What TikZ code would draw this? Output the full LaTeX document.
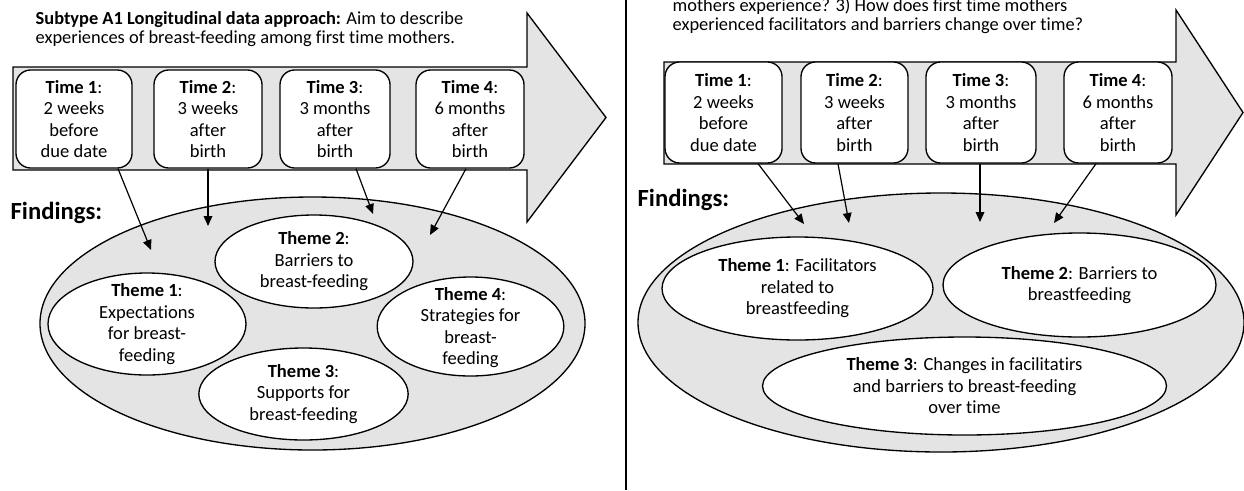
\documentclass[tikz,border=0pt]{standalone}
\usepackage{fontspec}
\setmainfont{Carlito}[Ligatures=NoCommon]
\usetikzlibrary{arrows.meta,shapes.geometric}
\definecolor{fillgray}{HTML}{E4E4E4}
\newcommand\fsbox{\fontsize{13.9}{16.1}\selectfont}
\newcommand\fstitle{\fontsize{13.8}{14.3}\selectfont}
\newcommand\fsfind{\fontsize{18.5}{20}\selectfont\bfseries}
\begin{document}
\begin{tikzpicture}[x=0.75pt,y=-0.75pt,line width=1pt,
  bigarrow/.style={draw,fill=fillgray,line join=miter},
  tbox/.style={draw,fill=white,rounded corners=11pt,inner sep=0pt,align=center,font=\fsbox},
  bigell/.style={draw,fill=fillgray,ellipse,inner sep=0pt},
  themeell/.style={draw,fill=white,ellipse,inner sep=0pt},
  ttext/.style={align=center,font=\fsbox,inner sep=0pt},
  titletext/.style={align=left,font=\fstitle,inner sep=0pt,anchor=west},
  findtext/.style={font=\fsfind,inner sep=0pt,anchor=west},
  conn/.style={-{Triangle[length=7.5pt,width=6.5pt]},line width=0.9pt}]
\path[use as bounding box] (0,0) rectangle (1244,490);
\clip (0,0) rectangle (1244,490);

% divider
\draw[line width=1pt] (626,0) -- (626,490);

% ---------------- left panel ----------------
\node[titletext] (ltitle) at (35,29) {\textbf{Subtype A1 Longitudinal data approach:} Aim to describe\\experiences of breast-feeding among first time mothers.};

\draw[bigarrow] (13,67) -- (527,67) -- (527,13) -- (606,117.5) -- (527,222) -- (527,170) -- (13,170) -- cycle;

\node[tbox,minimum width=87pt,minimum height=73.5pt] (lb1) at (74,119) {\textbf{Time 1}:\\2 weeks\\before\\due date};
\node[tbox,minimum width=81pt,minimum height=73.5pt] (lb2) at (208,119) {\textbf{Time 2}:\\3 weeks\\after\\birth};
\node[tbox,minimum width=82.5pt,minimum height=73.5pt] (lb3) at (335,119) {\textbf{Time 3}:\\3 months\\after\\birth};
\node[tbox,minimum width=81pt,minimum height=73.5pt] (lb4) at (470,119) {\textbf{Time 4}:\\6 months\\after\\birth};

\node[findtext] (lfind) at (10,213) {Findings:};

\node[bigell,minimum width=408.75pt,minimum height=189.75pt] (lbig) at (312.5,323.5) {};

\node[themeell,minimum width=148.5pt,minimum height=69.75pt] (lt2e) at (314,261.5) {};
\node[ttext] (lt2) at (lt2e) {\textbf{Theme 2}:\\Barriers to\\breast-feeding};
\node[themeell,minimum width=148.5pt,minimum height=76.5pt] (lt1e) at (147,324) {};
\node[ttext] (lt1) at (lt1e) {\textbf{Theme 1}:\\Expectations\\for breast-\\feeding};
\node[themeell,minimum width=140pt,minimum height=74.25pt] (lt4e) at (470.5,326.5) {};
\node[ttext] (lt4) at (470.5,327.5) {\textbf{Theme 4}:\\Strategies for\\breast-\\feeding};
\node[themeell,minimum width=157pt,minimum height=69pt] (lt3e) at (303.5,394) {};
\node[ttext] (lt3) at (lt3e) {\textbf{Theme 3}:\\Supports for\\breast-feeding};

\coordinate (la1) at (151,250);
\coordinate (la2) at (208,226);
\coordinate (la3) at (373,214);
\coordinate (la4) at (430,235);
\draw[conn] ([xshift=33pt]lb1.south) -- (la1);
\draw[conn] (lb2.south) -- (la2);
\draw[conn] ([xshift=15.75pt]lb3.south) -- (la3);
\draw[conn] ([xshift=-3pt]lb4.south) -- (la4);

% ---------------- right panel ----------------
\node[titletext] (rtitle) at (672,15.5) {mothers experience? 3) How does first time mothers\\experienced facilitators and barriers change over time?};

\draw[bigarrow] (664,62) -- (1176,62) -- (1176,10) -- (1243,112.5) -- (1176,215) -- (1176,164) -- (664,164) -- cycle;

\node[tbox,minimum width=87.75pt,minimum height=75.75pt] (rb1) at (723.5,112.5) {\textbf{Time 1}:\\2 weeks\\before\\due date};
\node[tbox,minimum width=80.25pt,minimum height=75.75pt] (rb2) at (854.5,112.5) {\textbf{Time 2}:\\3 weeks\\after\\birth};
\node[tbox,minimum width=82.5pt,minimum height=75.75pt] (rb3) at (981,112.5) {\textbf{Time 3}:\\3 months\\after\\birth};
\node[tbox,minimum width=81pt,minimum height=75.75pt] (rb4) at (1118,112.5) {\textbf{Time 4}:\\6 months\\after\\birth};

\node[findtext] (rfind) at (637,200) {Findings:};

\node[bigell,minimum width=454.5pt,minimum height=194.25pt] (rbig) at (941,322.5) {};

\node[themeell,minimum width=203.25pt,minimum height=77.25pt] (rt1e) at (797.5,288.5) {};
\node[ttext] (rt1) at (rt1e) {\textbf{Theme 1}: Facilitators\\related to\\breastfeeding};
\node[themeell,minimum width=204.75pt,minimum height=78pt] (rt2e) at (1079.5,285) {};
\node[ttext] (rt2) at (rt2e) {\textbf{Theme 2}: Barriers to\\breastfeeding};
\node[themeell,minimum width=303pt,minimum height=73.5pt] (rt3e) at (964.5,386) {};
\node[ttext] (rt3) at (rt3e) {\textbf{Theme 3}: Changes in facilitatirs\\and barriers to breast-feeding\\over time};

\coordinate (ra1) at (804,224);
\coordinate (ra2) at (849,223);
\coordinate (ra3) at (980,222);
\coordinate (ra4) at (1054,223);
\draw[conn] ([xshift=25.9pt]rb1.south) -- (ra1);
\draw[conn] ([xshift=-12.4pt]rb2.south) -- (ra2);
\draw[conn] ([xshift=-0.75pt]rb3.south) -- (ra3);
\draw[conn] ([xshift=-16.5pt]rb4.south) -- (ra4);
\end{tikzpicture}
\end{document}
